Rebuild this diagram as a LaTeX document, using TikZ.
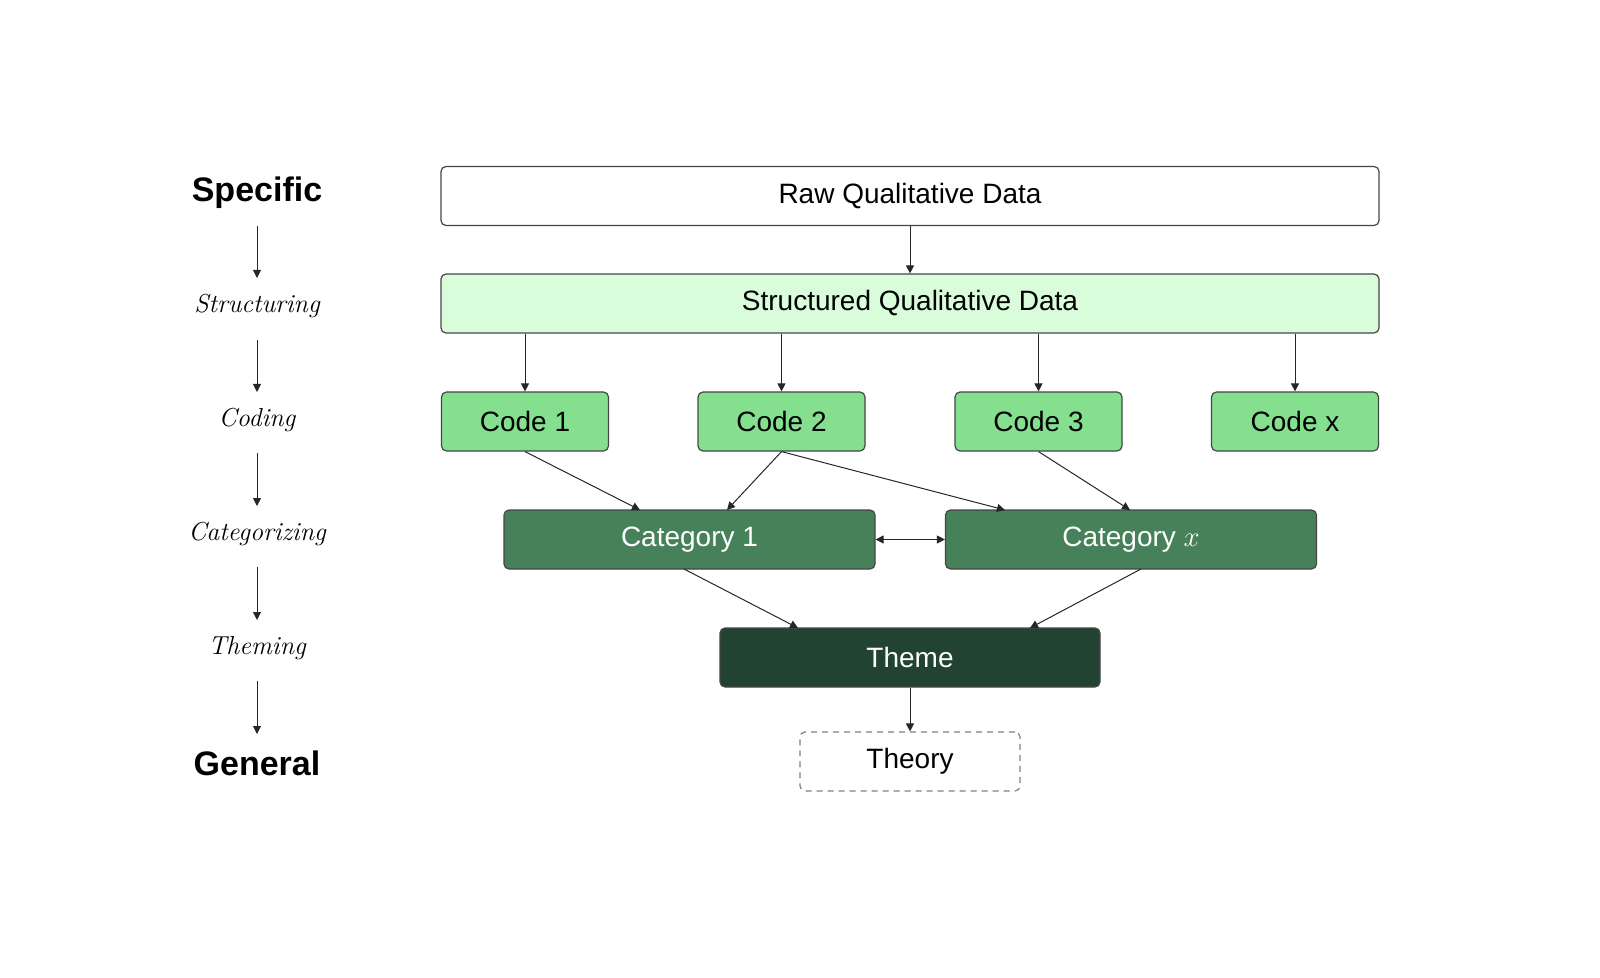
\documentclass[tikz,border=0pt]{standalone}
\usepackage{fontspec}
\setmainfont{Liberation Sans}
\newfontfamily\lmserif{Latin Modern Roman}
\usetikzlibrary{arrows.meta}
\definecolor{edgegray}{RGB}{70,70,70}
\definecolor{structfill}{RGB}{217,252,219}
\definecolor{codefill}{RGB}{132,224,143}
\definecolor{catfill}{RGB}{70,129,90}
\definecolor{themefill}{RGB}{35,67,50}
\tikzset{
  box/.style={draw=edgegray, line width=0.6pt, rounded corners=2.5pt, inner sep=0pt,
    minimum height=29.5pt, font=\fontsize{14}{16}\selectfont, text=black},
  rawbox/.style={box, fill=white, minimum width=469pt},
  structbox/.style={box, fill=structfill, minimum width=469pt},
  codebox/.style={box, fill=codefill, minimum width=83.5pt},
  catbox/.style={box, fill=catfill, minimum width=185.5pt, text=white},
  themebox/.style={box, fill=themefill, minimum width=190pt, text=white},
  theorybox/.style={box, draw=gray, dash pattern=on 3pt off 2.5pt, fill=white, minimum width=110pt},
  conn/.style={draw=black!85, line width=0.5pt, -{Triangle[length=4pt,width=4pt]}},
  lvl/.style={font=\fontsize{17}{19}\selectfont\bfseries},
  stage/.style={font=\lmserif\itshape\fontsize{13}{15}\selectfont},
}
\begin{document}
\begin{tikzpicture}[x=0.5pt,y=-0.5pt]
\useasboundingbox (0,0) rectangle (1600,978);
% main boxes
\node[rawbox] (raw) at (910,196) {Raw Qualitative Data};
\node[structbox] (struct) at (910,303.5) {Structured Qualitative Data};
\node[codebox] (c1) at (525,421.5) {Code 1};
\node[codebox] (c2) at (781.5,421.5) {Code 2};
\node[codebox] (c3) at (1038.5,421.5) {Code 3};
\node[codebox] (cx) at (1295,421.5) {Code x};
\node[catbox] (k1) at (689.5,539.5) {Category 1};
\node[catbox] (kx) at (1131,539.5) {Category $x$};
\node[themebox] (theme) at (910,657.5) {Theme};
\node[theorybox] (theory) at (910,761.5) {Theory};
% connectors
\draw[conn] (raw.south) -- (struct.north);
\draw[conn] (struct.south -| c1) -- (c1.north);
\draw[conn] (struct.south -| c2) -- (c2.north);
\draw[conn] (struct.south -| c3) -- (c3.north);
\draw[conn] (struct.south -| cx) -- (cx.north);
\coordinate (k1a) at (640,510);
\coordinate (k1b) at (727,510);
\coordinate (kxa) at (1005,510);
\coordinate (kxb) at (1130,510);
\draw[conn] (c1.south) -- (k1a);
\draw[conn] (c2.south) -- (k1b);
\draw[conn] (c2.south) -- (kxa);
\draw[conn] (c3.south) -- (kxb);
\draw[conn, {Triangle[length=4pt,width=4pt]}-{Triangle[length=4pt,width=4pt]}] (k1.east) -- (kx.west);
\coordinate (k1o) at (684,569);
\coordinate (kxo) at (1141,569);
\coordinate (tha) at (798,628);
\coordinate (thb) at (1030,628);
\draw[conn] (k1o) -- (tha);
\draw[conn] (kxo) -- (thb);
\draw[conn] (theme.south) -- (theory.north);
% left column
\node[lvl] (spec) at (257,193) {Specific};
\node[stage] (s1) at (257,306) {Structuring};
\node[stage] (s2) at (257,420) {Coding};
\node[stage] (s3) at (257,534) {Categorizing};
\node[stage] (s4) at (257,648) {Theming};
\node[lvl] (gen) at (257,763) {General};
\coordinate (a0) at (257,226); \coordinate (b0) at (257,278);
\coordinate (a1) at (257,340); \coordinate (b1) at (257,392);
\coordinate (a2) at (257,453); \coordinate (b2) at (257,506);
\coordinate (a3) at (257,567); \coordinate (b3) at (257,620);
\coordinate (a4) at (257,681); \coordinate (b4) at (257,734);
\draw[conn] (a0) -- (b0);
\draw[conn] (a1) -- (b1);
\draw[conn] (a2) -- (b2);
\draw[conn] (a3) -- (b3);
\draw[conn] (a4) -- (b4);
\end{tikzpicture}
\end{document}
